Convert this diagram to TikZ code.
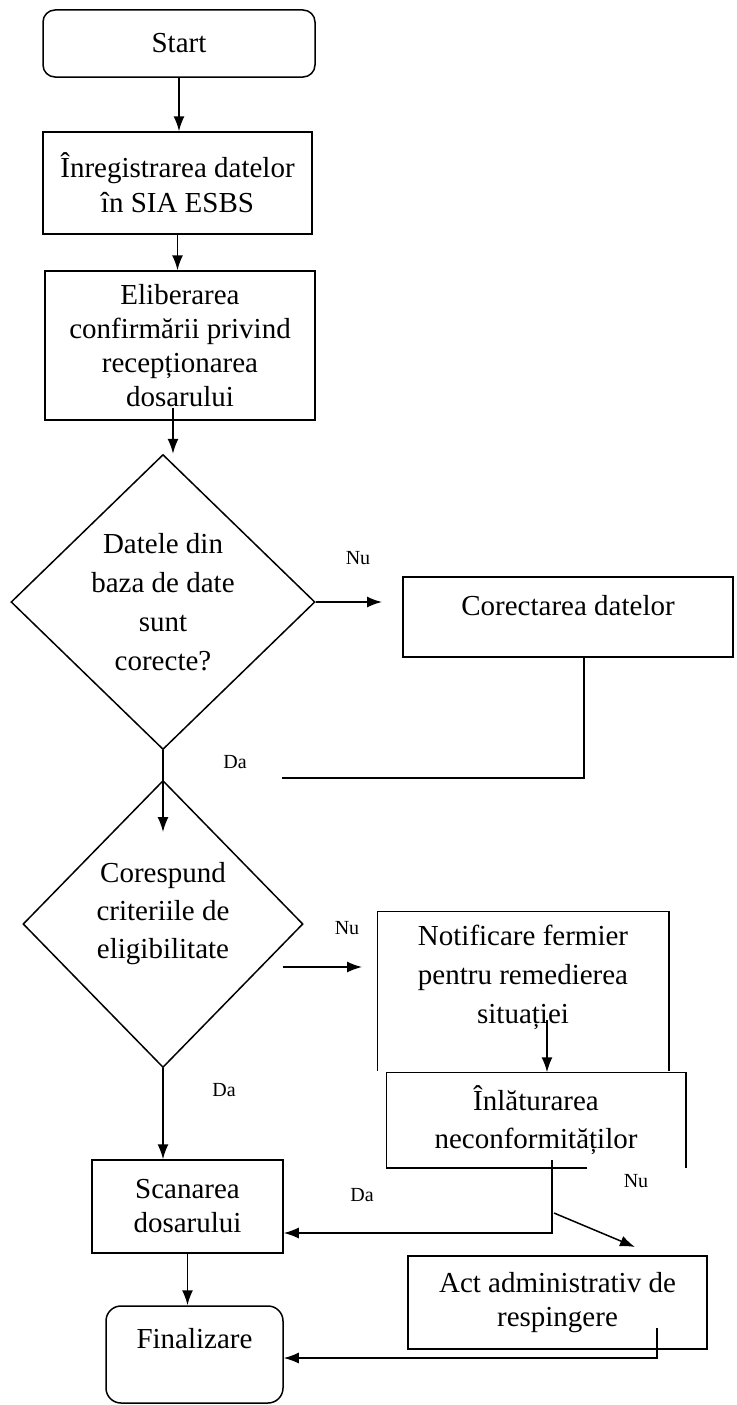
\documentclass[tikz,border=0pt]{standalone}
\usepackage{fontspec}
\setmainfont{Liberation Serif}
\usetikzlibrary{arrows.meta,shapes.geometric}
\newcommand{\txt}[1]{\fontsize{29}{#1}\selectfont}
\tikzset{
  flownode/.style = {align=center, inner sep=0pt, font=\txt{35}},
  term/.style = {flownode, rectangle, draw, rounded corners=12pt},% start / final
  proc/.style = {flownode, rectangle, draw},% pas simplu
  cond/.style = {flownode, diamond, draw, font=\txt{39}},% decizie
  answer/.style = {inner sep=0pt, font=\fontsize{20}{24}\selectfont}% Da / Nu
}

\begin{document}
\begin{tikzpicture}[->, >={Latex[length=15pt,width=11pt]}, line width=1.5pt,
  x=1pt, y=-1pt]
\useasboundingbox (0,0) rectangle (736,1405);

% coloana din stanga
\node [term, minimum width=272pt, minimum height=67pt] (start) at (179,43.5) {Start};
\node [proc, minimum width=269pt, minimum height=102pt] (reg) at (177.5,183)
  {Înregistrarea datelor\\în SIA ESBS};
\node [proc, minimum width=270pt, minimum height=149pt, font=\txt{34}] (elib) at (180,345.5)
  {Eliberarea\\confirmării privind\\recepționarea\\dosarului};
\node [cond, minimum width=304pt, minimum height=295pt] (dec1) at (163,602)
  {Datele din\\baza de date\\sunt\\corecte?};
\node [cond, minimum width=280pt, minimum height=287pt, font=\txt{38},
  text depth=28pt] (dec2) at (163,924)
  {Corespund\\criteriile de\\eligibilitate};
\node [proc, minimum width=191pt, minimum height=93pt, font=\txt{34}] (scan) at (187.5,1206.5)
  {Scanarea\\dosarului};
\node [term, minimum width=177pt, minimum height=97pt, rounded corners=15pt,
  text height=20pt, text depth=32pt] (final) at (194.5,1354.5) {Finalizare};

% coloana din dreapta
\node [proc, minimum width=330pt, minimum height=80pt,
  text height=20pt, text depth=24pt] (corect) at (568,617) {Corectarea datelor};
\node [flownode, minimum width=290pt, minimum height=158pt, font=\txt{39},
  text depth=34pt] (notif) at (523,991)
  {Notificare fermier\\pentru remedierea\\situației};
\node [flownode, minimum width=298pt, minimum height=94pt, font=\txt{38}] (inl) at (536,1120)
  {Înlăturarea\\neconformităților};
\node [proc, minimum width=299pt, minimum height=93pt, font=\txt{34}] (act) at (557.5,1302.5)
  {Act administrativ de\\respingere};

% chenare deschise
\draw [-] (notif.south west) |- (notif.north east) -- (notif.south east);
\draw [-] ([xshift=201pt]inl.south west) -- (inl.south west) -- (inl.north west)
  -- (inl.north east) -- (inl.south east);

% etichete
\node [answer] (nu1) at (358,558) {Nu};
\node [answer] (da1) at (235,762) {Da};
\node [answer] (nu2) at (347,928) {Nu};
\node [answer] (da2) at (224,1090) {Da};
\node [answer] (da3) at (362,1195) {Da};
\node [answer] (nu3) at (636,1181) {Nu};

% capete libere
\coordinate (elibout) at (173,408);
\coordinate (nu1end) at (382,602);
\coordinate (retend) at (282,778);
\coordinate (d2in) at (163,832);
\coordinate (nu2beg) at (283,967);
\coordinate (nu2end) at (362,967);
\coordinate (notifout) at (547,1020);
\coordinate (inlout) at (552,1160);
\coordinate (inlturn) at (552,1233);
\coordinate (nu3beg) at (554,1213);
\coordinate (nu3end) at (635,1247);
\coordinate (actout) at (657,1328);
\coordinate (actturn) at (657,1358);

% sageti
\draw (start.south) -- (start.south |- reg.north);
\draw (reg.south) -- (reg.south |- elib.north);
\draw (elibout) -- (elibout |- dec1.north);
\draw (dec1.east) -- (nu1end);
\draw [-] ([xshift=16pt]corect.south) |- (retend);
\draw (dec1.south) -- (d2in);
\draw (nu2beg) -- (nu2end);
\draw (dec2.south) -- (dec2.south |- scan.north);
\draw (notifout) -- (notifout |- inl.north);
\draw (inlout) -- (inlturn) -- (inlturn -| scan.east);
\draw (nu3beg) -- (nu3end);
\draw (scan.south) -- (scan.south |- final.north);
\draw (actout) -- (actturn) -- (actturn -| final.east);
\end{tikzpicture}
\end{document}
